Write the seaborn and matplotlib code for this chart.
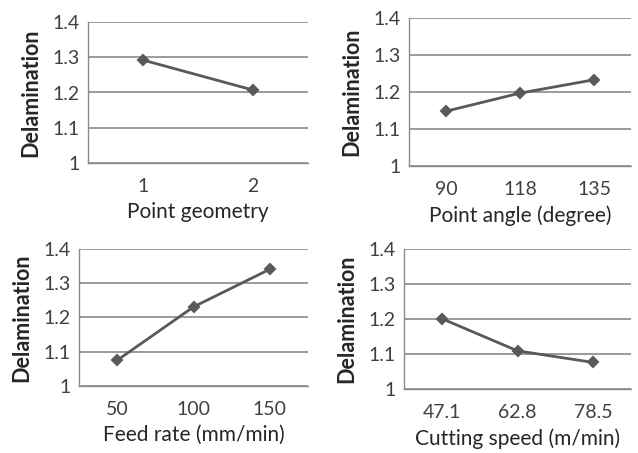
import matplotlib

matplotlib.use("Agg")

import matplotlib.pyplot as plt
import seaborn as sns

geometry_levels = ["1", "2"]
geometry_delam = [1.292, 1.207]

angle_levels = ["90", "118", "135"]
angle_delam = [1.148, 1.197, 1.233]

feed_levels = ["50", "100", "150"]
feed_delam = [1.075, 1.231, 1.341]

speed_levels = ["47.1", "62.8", "78.5"]
speed_delam = [1.201, 1.109, 1.076]

panels = [
    (geometry_levels, geometry_delam, "Point geometry", (88, 22, 308, 163)),
    (angle_levels, angle_delam, "Point angle (degree)", (409, 18, 631, 166)),
    (feed_levels, feed_delam, "Feed rate (mm/min)", (79, 249, 308, 386)),
    (speed_levels, speed_delam, "Cutting speed (m/min)", (404, 249, 631, 389)),
]

sns.set_style("white")
plt.rcParams["font.family"] = ["Lato", "DejaVu Sans"]

W, H = 638, 453
fig = plt.figure(figsize=(W / 100, H / 100), dpi=100)

line_col = "#595959"
grid_col = "#8a8a8a"

for levels, vals, xlabel, (x0, y0, x1, y1) in panels:
    ax = fig.add_axes([x0 / W, 1 - y1 / H, (x1 - x0) / W, (y1 - y0) / H])
    sns.pointplot(x=levels, y=vals, color=line_col, markers="D", markersize=5.5,
                  linewidth=2, ax=ax)
    n = len(levels)
    ax.set_xlim(-0.5, n - 0.5)
    ax.set_ylim(1.0, 1.4)
    ax.set_yticks([1.0, 1.1, 1.2, 1.3, 1.4])
    ax.set_yticklabels(["1", "1.1", "1.2", "1.3", "1.4"])
    ax.yaxis.grid(True, color=grid_col, linewidth=1.2)
    ax.set_axisbelow(True)
    ax.set_xticks([i - 0.5 for i in range(n + 1)], minor=True)
    ax.tick_params(axis="x", which="major", length=0, pad=11, labelsize=14, colors="#404040")
    ax.tick_params(axis="x", which="minor", length=4, width=1, color=grid_col)
    ax.tick_params(axis="y", length=4, width=1, color=grid_col, labelsize=14,
                   labelcolor="#404040", pad=2)
    for s in ["top", "right"]:
        ax.spines[s].set_visible(False)
    for s in ["left", "bottom"]:
        ax.spines[s].set_color(grid_col)
        ax.spines[s].set_linewidth(1)
    ax.set_xlabel(xlabel, fontsize=15, color="#262626", labelpad=5)
    ax.set_ylabel("Delamination", fontsize=15.5, fontweight="bold", color="#262626", labelpad=8)

fig.savefig("out.png", dpi=100)
